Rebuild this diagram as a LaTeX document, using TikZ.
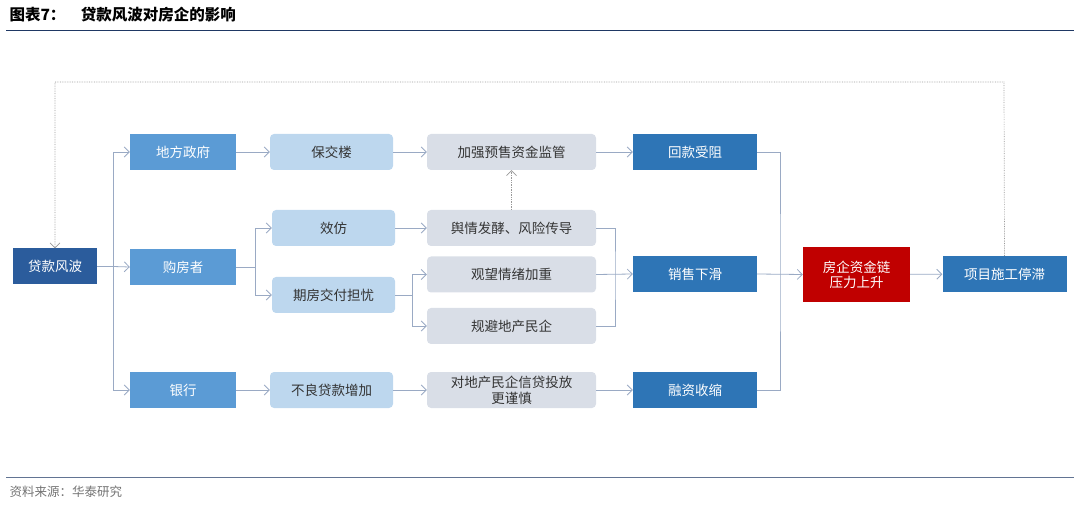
\documentclass[tikz,border=0pt]{standalone}
\usepackage{fontspec}
\setmainfont{Noto Sans CJK SC}
\usetikzlibrary{arrows.meta}
\definecolor{dkb}{HTML}{2B5C9C}
\definecolor{mdb}{HTML}{5B9BD5}
\definecolor{blb}{HTML}{2E75B6}
\definecolor{ltb}{HTML}{BDD7EE}
\definecolor{gry}{HTML}{D9DEE7}
\definecolor{redb}{HTML}{C00000}
\definecolor{ln}{HTML}{9AAAC4}
\definecolor{ttl}{HTML}{1F3864}
\tikzset{
 x=1pt,y=-1pt,
 bx/.style={minimum height=36pt,inner sep=0pt,font=\fontsize{13.5}{15}\selectfont,align=center},
 darkbox/.style={bx,fill=dkb,text=white,minimum width=84pt},
 midbox/.style={bx,fill=mdb,text=white,minimum width=106pt},
 bluebox/.style={bx,fill=blb,text=white,minimum width=124pt},
 litebox/.style={bx,fill=ltb,text=black!80,rounded corners=4pt,minimum width=123pt},
 greybox/.style={bx,fill=gry,text=black!80,rounded corners=4pt,minimum width=169pt},
 redbox/.style={bx,fill=redb,text=white,minimum width=107pt,minimum height=55pt},
 con/.style={draw=ln,line width=0.8pt},
 arr/.style={con,-{Straight Barb[length=5pt,width=10pt]}},
 dots/.style={draw=black!40,line width=0.7pt,densely dotted},
}
\begin{document}
\begin{tikzpicture}
\useasboundingbox (0,0) rectangle (1080,505);
\node[anchor=west,font=\fontsize{15.5}{17}\selectfont\bfseries,text=black] (title) at (6,15) {图表7：\quad 贷款风波对房企的影响};
\draw[ttl,line width=0.8pt] (6,30) -- (1074,30);
\draw[ttl!70,line width=0.6pt] (6,477) -- (1074,477);
\node[anchor=west,font=\fontsize{12.5}{14}\selectfont,text=black!55] (src) at (6,492) {资料来源：华泰研究};

\node[darkbox] (dk) at (55,266.5) {贷款风波};
\node[midbox] (gov) at (183,152) {地方政府};
\node[midbox] (buy) at (183,267) {购房者};
\node[midbox] (bank) at (183,390) {银行};
\node[litebox] (bjl) at (331.5,152) {保交楼};
\node[litebox] (xf) at (333.5,228) {效仿};
\node[litebox] (qf) at (333.5,295) {期房交付担忧};
\node[litebox] (bl) at (331.5,390) {不良贷款增加};
\node[greybox] (jq) at (511.5,152) {加强预售资金监管};
\node[greybox] (yq) at (511.5,228) {舆情发酵、风险传导};
\node[greybox] (gw) at (511.5,274.5) {观望情绪加重};
\node[greybox] (gb) at (511.5,326) {规避地产民企};
\node[greybox,font=\fontsize{13.5}{16}\selectfont] (dd) at (511.5,390) {对地产民企信贷投放\\更谨慎};
\node[bluebox] (hk) at (695,152) {回款受阻};
\node[bluebox] (xs) at (695,274) {销售下滑};
\node[bluebox] (rz) at (695,390) {融资收缩};
\node[redbox] (fq) at (856.5,274.5) {房企资金链\\压力上升};
\node[bluebox] (xm) at (1004.5,274) {项目施工停滞};

\coordinate (s1) at (113,266.5);
\draw[con] (dk.east) -- (s1);
\draw[arr] (s1) |- (gov.west);
\draw[arr] (s1) -- (buy.west);
\draw[arr] (s1) |- (bank.west);
\draw[arr] (gov) -- (bjl);
\draw[arr] (bank) -- (bl);
\coordinate (s2) at (255,267);
\draw[con] (buy.east) -- (s2);
\draw[arr] (s2) |- (xf.west);
\draw[arr] (s2) |- (qf.west);
\coordinate (s3) at (412,295);
\draw[con] (qf.east) -- (s3);
\draw[arr] (s3) |- (gw.west);
\draw[arr] (s3) |- (gb.west);
\draw[arr] (bjl) -- (jq);
\draw[arr] (xf) -- (yq);
\draw[arr] (bl) -- (dd);
\draw[dots,-{Straight Barb[length=5pt,width=10pt]}] (yq.north) -- (jq.south);
\draw[arr] (jq) -- (hk);
\draw[arr] (dd) -- (rz);
\coordinate (j1) at (615,274);
\draw[con] (yq.east) -| (j1) |- (gb.east);
\draw[arr] (gw.east) -- (xs.west);
\coordinate (j2) at (780,274);
\draw[con] (hk.east) -| (j2) |- (rz.east);
\draw[arr] (xs.east) -- (fq.west);
\draw[arr] (fq) -- (xm);
\coordinate (t1) at (1004,82);
\coordinate (t2) at (55,82);
\draw[dots,-{Straight Barb[length=5pt,width=10pt]}] (xm.north) -- (t1) -- (t2) -- (dk.north);
\end{tikzpicture}
\end{document}
